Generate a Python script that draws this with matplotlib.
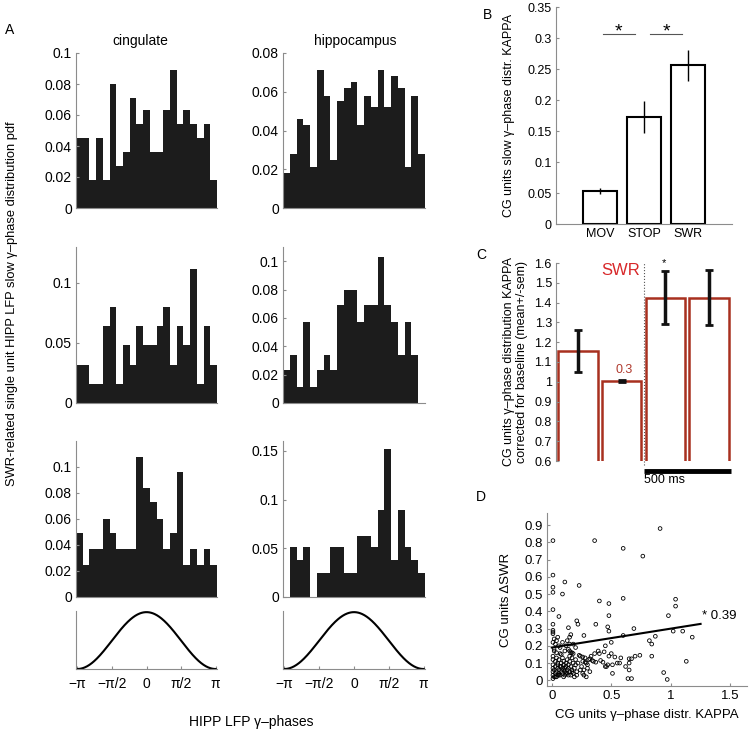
import numpy as np
import matplotlib
matplotlib.use('Agg')
import matplotlib.pyplot as plt
from matplotlib.ticker import FuncFormatter

plt.rcParams['font.family'] = ['Liberation Sans', 'DejaVu Sans']

# ---- panel A: phase histograms (21 bins over -pi..pi)
cing_r1 = [0.045, 0.045, 0.018, 0.045, 0.018, 0.080, 0.027, 0.036, 0.071, 0.054, 0.063,
           0.036, 0.036, 0.063, 0.089, 0.054, 0.063, 0.054, 0.045, 0.054, 0.018]
hipp_r1 = [0.018, 0.028, 0.046, 0.043, 0.021, 0.071, 0.058, 0.025, 0.055, 0.062, 0.065,
           0.043, 0.058, 0.052, 0.071, 0.052, 0.068, 0.062, 0.021, 0.058, 0.028]
cing_r2 = [0.032, 0.032, 0.016, 0.016, 0.064, 0.080, 0.016, 0.048, 0.032, 0.064, 0.048,
           0.048, 0.064, 0.080, 0.032, 0.064, 0.048, 0.112, 0.016, 0.064, 0.032]
hipp_r2 = [0.023, 0.034, 0.0115, 0.057, 0.0115, 0.023, 0.034, 0.023, 0.069, 0.080, 0.080,
           0.057, 0.069, 0.069, 0.103, 0.069, 0.057, 0.034, 0.057, 0.034, 0.0]
cing_r3 = [0.049, 0.025, 0.037, 0.037, 0.060, 0.049, 0.037, 0.037, 0.037, 0.108, 0.084,
           0.073, 0.060, 0.037, 0.049, 0.096, 0.025, 0.037, 0.025, 0.037, 0.025]
hipp_r3 = [0.0, 0.051, 0.038, 0.051, 0.0, 0.025, 0.025, 0.051, 0.051, 0.025, 0.025,
           0.063, 0.063, 0.051, 0.089, 0.152, 0.038, 0.089, 0.051, 0.038, 0.025]
hist_ylim = [0.1, 0.08, 0.13, 0.11, 0.12, 0.16]
hist_ticks = [[0, 0.02, 0.04, 0.06, 0.08, 0.1], [0, 0.02, 0.04, 0.06, 0.08],
              [0, 0.05, 0.1], [0, 0.02, 0.04, 0.06, 0.08, 0.1],
              [0, 0.02, 0.04, 0.06, 0.08, 0.1], [0, 0.05, 0.1, 0.15]]
phase_ticks = [-np.pi, -np.pi / 2, 0, np.pi / 2, np.pi]
phase_labels = ['\u2212\u03c0', '\u2212\u03c0/2', '0', '\u03c0/2', '\u03c0']

# ---- panel B
states = ['MOV', 'STOP', 'SWR']
kappa = [0.053, 0.172, 0.256]
kappa_err = [0.005, 0.026, 0.025]

# ---- panel C
c_vals = [1.155, 1.005, 1.425, 1.425]
c_err = [0.105, 0.004, 0.135, 0.14]

# ---- panel D
d_x = [0.01, 0.36, 0.60, 0.765, 0.91, 0.01, 0.01, 0.01, 0.11, 0.09, 0.23, 0.01, 0.06,
       0.40, 0.48, 0.60, 0.48, 1.04, 1.04, 0.98, 0.01, 0.37, 0.21, 0.22, 0.14, 0.47,
       0.48, 0.69, 0.01, 0.01, 0.27, 0.16, 0.15, 1.02, 1.10, 1.18, 0.87, 0.60, 0.02,
       0.04, 0.50, 0.45, 0.82, 0.84, 0.06, 0.09, 0.13, 0.15, 0.20, 0.02, 0.07, 0.15,
       0.18, 0.36, 0.40, 0.44, 0.48, 0.50, 0.53, 0.57, 0.65, 0.67, 0.74, 0.84, 1.13,
       0.94, 0.97, 0.64, 0.67, 0.65, 0.51, 0.51, 0.62, 0.65, 0.43, 0.46, 0.41, 0.23,
       0.26, 0.28, 0.30, 0.32, 0.29, 0.26, 0.32, 0.34, 0.37,
       0.01, 0.01, 0.01, 0.01, 0.01, 0.01, 0.01, 0.02, 0.02, 0.03, 0.03, 0.03, 0.04,
       0.04, 0.04, 0.05, 0.05, 0.05, 0.06, 0.06, 0.06, 0.07, 0.07, 0.08, 0.08, 0.09,
       0.09, 0.09, 0.10, 0.10, 0.10, 0.11, 0.11, 0.12, 0.12, 0.13, 0.13, 0.13, 0.14,
       0.14, 0.15, 0.15, 0.16, 0.16, 0.17, 0.17, 0.18, 0.18, 0.19, 0.20, 0.20, 0.21,
       0.22, 0.24, 0.25, 0.26, 0.27, 0.28, 0.29, 0.30, 0.31, 0.33, 0.35, 0.02, 0.03,
       0.04, 0.05, 0.01, 0.01, 0.07, 0.12, 0.14, 0.16, 0.18, 0.08, 0.11, 0.15, 0.17,
       0.03, 0.06, 0.10, 0.12, 0.14, 0.19, 0.21, 0.05, 0.08, 0.11, 0.17, 0.24, 0.27,
       0.45, 0.47, 0.39, 0.55, 0.58, 0.70]
d_y = [0.81, 0.81, 0.765, 0.72, 0.88, 0.61, 0.54, 0.51, 0.57, 0.50, 0.55, 0.41, 0.37,
       0.46, 0.445, 0.475, 0.375, 0.47, 0.43, 0.375, 0.325, 0.325, 0.345, 0.325, 0.305,
       0.31, 0.285, 0.30, 0.29, 0.27, 0.26, 0.265, 0.25, 0.285, 0.285, 0.25, 0.255,
       0.26, 0.24, 0.23, 0.22, 0.20, 0.23, 0.21, 0.20, 0.22, 0.23, 0.21, 0.19, 0.17,
       0.155, 0.17, 0.155, 0.155, 0.155, 0.165, 0.14, 0.155, 0.135, 0.10, 0.125, 0.125,
       0.145, 0.14, 0.11, 0.045, 0.005, 0.01, 0.01, 0.06, 0.04, 0.09, 0.08, 0.10, 0.105,
       0.08, 0.115, 0.145, 0.135, 0.105, 0.09, 0.05, 0.02, 0.04, 0.125, 0.115, 0.105,
       0.01, 0.03, 0.05, 0.07, 0.09, 0.12, 0.14, 0.02, 0.06, 0.04, 0.08, 0.11, 0.02,
       0.05, 0.13, 0.03, 0.07, 0.10, 0.04, 0.06, 0.12, 0.03, 0.08, 0.05, 0.10, 0.04,
       0.07, 0.13, 0.06, 0.09, 0.11, 0.03, 0.05, 0.08, 0.10, 0.04, 0.06, 0.12, 0.07,
       0.09, 0.05, 0.11, 0.03, 0.08, 0.06, 0.13, 0.04, 0.10, 0.07, 0.09, 0.12, 0.05,
       0.10, 0.14, 0.08, 0.11, 0.06, 0.13, 0.10, 0.07, 0.12, 0.14, 0.11, 0.18, 0.21,
       0.16, 0.25, 0.22, 0.28, 0.19, 0.20, 0.18, 0.16, 0.21, 0.15, 0.17, 0.14, 0.16,
       0.02, 0.03, 0.02, 0.04, 0.03, 0.02, 0.03, 0.09, 0.08, 0.07, 0.05, 0.06, 0.03,
       0.08, 0.09, 0.17, 0.10, 0.13, 0.14]
fit_x = [0.0, 1.25]
fit_y = [0.19, 0.327]

GRAY = '#8c8c8c'
fig = plt.figure(figsize=(7.5, 7.3), dpi=100)


def px(x0, y_top, x1, y_bot):
    # figure-pixel box -> axes rect
    return [x0 / 750, 1 - y_bot / 730, (x1 - x0) / 750, (y_bot - y_top) / 730]


def style(ax, fs=10):
    for s in ['top', 'right']:
        ax.spines[s].set_visible(False)
    for s in ['left', 'bottom']:
        ax.spines[s].set_color(GRAY)
        ax.spines[s].set_linewidth(0.8)
    ax.tick_params(direction='in', length=2.5, color=GRAY, labelsize=fs, pad=3)


fmt = FuncFormatter(lambda v, p: '%g' % round(v, 4))

hists = [cing_r1, hipp_r1, cing_r2, hipp_r2, cing_r3, hipp_r3]
cols = [(76, 217), (283, 425)]
rows = [(53, 208), (247, 403), (441, 597)]
edges = np.linspace(-np.pi, np.pi, 22)
for i, h in enumerate(hists):
    c = cols[i % 2]
    r = rows[i // 2]
    ax = fig.add_axes(px(c[0], r[0], c[1], r[1]))
    ax.bar(edges[:-1], h, width=edges[1] - edges[0], align='edge',
           color='#1c1c1c', edgecolor='none')
    ax.set_xlim(-np.pi, np.pi)
    ax.set_ylim(0, hist_ylim[i])
    ax.set_yticks(hist_ticks[i])
    ax.yaxis.set_major_formatter(fmt)
    ax.set_xticks([])
    style(ax)

ph = np.linspace(-np.pi, np.pi, 300)
wave = (np.cos(ph) + 1) / 2
for c in cols:
    ax = fig.add_axes(px(c[0], 611, c[1], 669))
    ax.plot(ph, wave, color='black', lw=1.5)
    ax.set_xlim(-np.pi * 1.02, np.pi * 1.02)
    ax.set_ylim(0, 1.02)
    ax.set_yticks([])
    ax.set_xticks(phase_ticks)
    ax.set_xticklabels(phase_labels)
    style(ax)
    ax.tick_params(pad=6)

fig.text(140 / 750, 1 - 41 / 730, 'cingulate', ha='center', va='center', fontsize=10)
fig.text(355 / 750, 1 - 41 / 730, 'hippocampus', ha='center', va='center', fontsize=10)
fig.text(251 / 750, 1 - 722 / 730, 'HIPP LFP \u03b3\u2013phases', ha='center', va='center',
         fontsize=10)
fig.text(12 / 750, 1 - 304 / 730,
         'SWR-related single unit HIPP LFP slow \u03b3\u2013phase distribution pdf',
         ha='center', va='center', rotation=90, fontsize=9.3)
fig.text(5 / 750, 1 - 30 / 730, 'A', ha='left', va='center', fontsize=10)

# ---- panel B
axb = fig.add_axes(px(556, 7, 732, 224))
pos = [1, 2, 3]
axb.bar(pos, kappa, width=0.77, color='white', edgecolor='black', lw=1.5)
axb.errorbar(pos, kappa, yerr=kappa_err, fmt='none', ecolor='black', elinewidth=1)
axb.set_xlim(0, 4)
axb.set_ylim(0, 0.35)
axb.set_yticks(np.arange(0, 0.351, 0.05))
axb.yaxis.set_major_formatter(fmt)
axb.set_xticks(pos)
axb.set_xticklabels(states)
style(axb, 9)
axb.tick_params(axis='x', length=0)
axb.plot([1.07, 1.8], [0.306, 0.306], color='#555555', lw=0.8)
axb.plot([2.14, 2.86], [0.306, 0.306], color='#555555', lw=0.8)
axb.text(1.42, 0.31, '*', ha='center', va='center', fontsize=14)
axb.text(2.5, 0.31, '*', ha='center', va='center', fontsize=14)
axb.set_ylabel('CG units slow \u03b3\u2013phase distr. KAPPA', fontsize=9, labelpad=9)
fig.text(483 / 750, 1 - 15 / 730, 'B', ha='left', va='center', fontsize=10)

# ---- panel C
axc = fig.add_axes(px(556, 263, 731, 461))
cpos = [0.5, 1.5, 2.5, 3.5]
axc.bar(cpos, c_vals, width=0.9, bottom=0, color='white', edgecolor='#a8301f', lw=1.8)
axc.errorbar(cpos, c_vals, yerr=c_err, fmt='none', ecolor='#111111', elinewidth=2.5,
             capsize=3, capthick=2)
axc.set_xlim(0, 4)
axc.set_ylim(0.6, 1.6)
axc.set_yticks(np.arange(0.6, 1.61, 0.1))
axc.yaxis.set_major_formatter(fmt)
axc.set_xticks([])
style(axc, 9)
axc.spines['bottom'].set_visible(False)
axc.plot([2, 2], [0.58, 1.6], color='#555555', lw=0.8, ls=':', clip_on=False)
axc.plot([2, 4], [0.55, 0.55], color='black', lw=3.5, clip_on=False,
         solid_capstyle='butt')
axc.text(2.0, 0.505, '500 ms', ha='left', va='center', fontsize=9)
axc.text(1.92, 1.56, 'SWR', ha='right', va='center', fontsize=12, color='#d8282a')
axc.text(2.46, 1.6, '*', ha='center', va='center', fontsize=8)
axc.text(1.56, 1.06, '0.3', ha='center', va='center', fontsize=9, color='#b03a2e')
axc.set_ylabel('CG units \u03b3\u2013phase distribution KAPPA\n'
               'corrected for baseline (mean+/-sem)', fontsize=9, labelpad=5,
               linespacing=1.1)
fig.text(476 / 750, 1 - 255 / 730, 'C', ha='left', va='center', fontsize=10)

# ---- panel D
axd = fig.add_axes(px(547, 513, 747, 686))
axd.scatter(d_x, d_y, s=7, facecolors='none', edgecolors='black', linewidths=0.6)
axd.plot(fit_x, fit_y, color='black', lw=1.5)
axd.text(1.26, 0.37, '* 0.39', ha='left', va='center', fontsize=9.5)
axd.set_xlim(-0.04, 1.64)
axd.set_ylim(-0.033, 0.97)
axd.set_xticks([0, 0.5, 1, 1.5])
axd.set_yticks(np.arange(0, 0.91, 0.1))
axd.xaxis.set_major_formatter(fmt)
axd.yaxis.set_major_formatter(fmt)
style(axd, 9.5)
axd.set_ylabel('CG units \u0394SWR', fontsize=9.5, labelpad=9)
axd.set_xlabel('CG units \u03b3\u2013phase distr. KAPPA', fontsize=9.5, labelpad=5)
fig.text(476 / 750, 1 - 497 / 730, 'D', ha='left', va='center', fontsize=10)

fig.savefig('out.png', dpi=100)
